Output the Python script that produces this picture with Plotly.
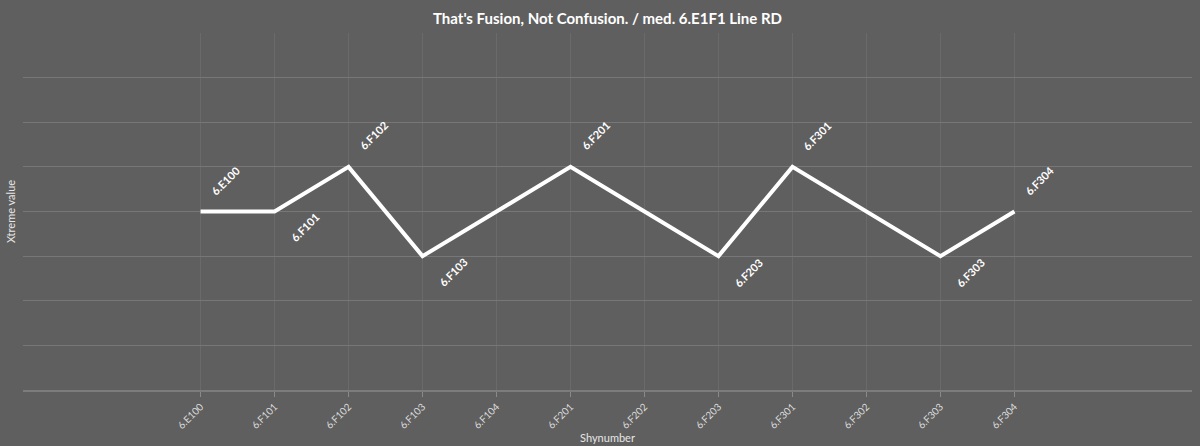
import plotly.graph_objects as go

# data
shynumbers = ["6.E100", "6.F101", "6.F102", "6.F103", "6.F104", "6.F201",
              "6.F202", "6.F203", "6.F301", "6.F302", "6.F303", "6.F304"]
xtreme_values = [0, 0, 1, -1, 0, 1, 0, -1, 1, 0, -1, 0]
# where the point label goes: "up", "down" or "" for none
label_side = ["up", "down", "up", "down", "", "up", "", "down", "up", "", "down", "up"]

BG = "#5f5f5f"
FONT = "Lato"

fig = go.Figure()
fig.add_trace(go.Scatter(
    x=shynumbers,
    y=xtreme_values,
    mode="lines",
    line=dict(color="#ffffff", width=4),
    hoverinfo="x+y",
    showlegend=False,
))

# rotated point labels (x as category index, "6.E100" would parse as a number)
for i, (name, val, side) in enumerate(zip(shynumbers, xtreme_values, label_side)):
    if not side:
        continue
    fig.add_annotation(
        x=i, y=val, text="<b>" + name + "</b>", showarrow=False, textangle=-45,
        xshift=25 if side == "up" else 30,
        yshift=31 if side == "up" else -16,
        font=dict(family=FONT, size=11, color="#ffffff"),
    )

fig.update_layout(
    width=1200,
    height=446,
    paper_bgcolor=BG,
    plot_bgcolor=BG,
    margin=dict(l=23, r=8, t=33, b=56),
    font=dict(family=FONT, color="#e6e6e6"),
    title=dict(
        text="<b>That's Fusion, Not Confusion. / med. 6.E1F1 Line RD</b>",
        x=0.5, xref="paper", y=0.97, yref="container",
        font=dict(family=FONT, size=15, color="#ffffff"),
    ),
    xaxis=dict(
        title=dict(text="Shynumber", font=dict(size=11, color="#e6e6e6"), standoff=2),
        type="category",
        range=[-2.4, 13.4],
        tickangle=-45,
        tickfont=dict(size=10, color="#dcdcdc"),
        showgrid=True,
        gridcolor="#6a6a6a",
        gridwidth=1,
        ticks="outside",
        ticklen=5,
        tickcolor="#8a8a8a",
        showline=True,
        linecolor="#7c7c7c",
        linewidth=2,
        zeroline=False,
        automargin=False,
    ),
    yaxis=dict(
        title=dict(text="Xtreme value", font=dict(size=11, color="#e6e6e6"), standoff=4),
        range=[-4, 4],
        dtick=1,
        showticklabels=False,
        showgrid=True,
        gridcolor="#777777",
        gridwidth=1,
        zeroline=False,
        automargin=False,
    ),
)

fig.write_html("out.html", config={"displayModeBar": False},
               post_script="document.body.style.margin='0';")
